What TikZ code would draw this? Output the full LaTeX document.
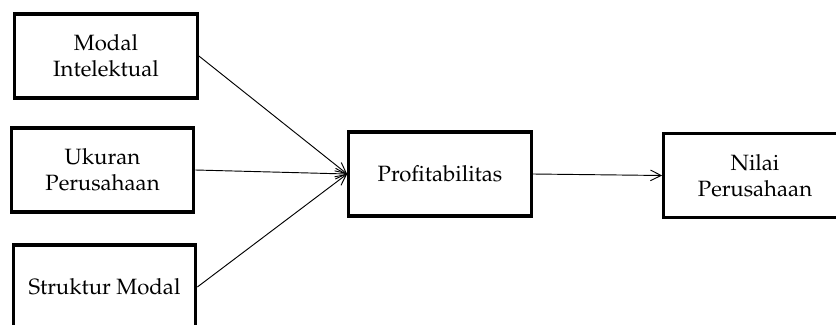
\documentclass[tikz,border=0pt]{standalone}
\usepackage[T1]{fontenc}
\usepackage{mathpazo}
\usetikzlibrary{arrows.meta}
\tikzset{var/.style = {draw, line width=2.3pt, minimum width=137pt, minimum height=63pt, align=center, font=\fontsize{16.6}{19.5}\selectfont},
         arr/.style = {-{Straight Barb[length=8pt, width=8pt]}, line width=0.7pt}}

\begin{document}
\begin{tikzpicture}[x=0.75pt, y=0.75pt]
\useasboundingbox (0,0) rectangle (836,325);
\clip (0,0) rectangle (836,325);
\node[var] (mi) at (106,269) {Modal\\Intelektual};
\node[var] (up) at (102.5,155) {Ukuran\\Perusahaan};
\node[var] (sm) at (104.5,38) {Struktur Modal};
\node[var] (pr) at (440,151) {Profitabilitas};
\node[var] (np) at (755,149.5) {Nilai\\Perusahaan};
\draw[arr] (mi.east) -- (pr.west);
\draw[arr] (up.east) -- (pr.west);
\draw[arr] (sm.east) -- (pr.west);
\draw[arr] (pr.east) -- (np.west);
\end{tikzpicture}
\end{document}
